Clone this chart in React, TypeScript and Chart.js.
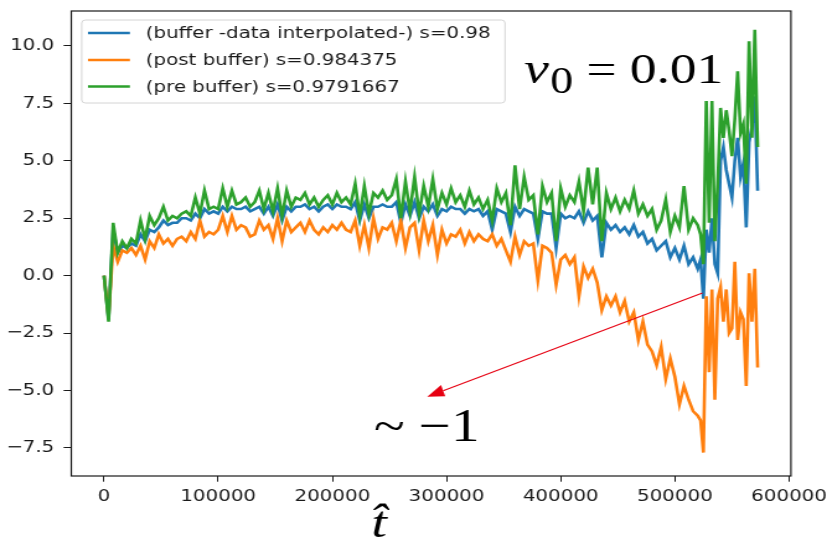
import React, { useEffect, useRef } from "react";
import { Chart, registerables } from "chart.js";

Chart.register(...registerables);

// time stamps (in thousands of steps)
const T_K = [
  0, 4, 8, 12, 16, 20, 24, 28, 32, 36,
  40, 44, 48, 52, 56, 60, 64, 68, 72, 76,
  80, 84, 88, 92, 96, 100, 104, 108, 112, 116,
  120, 124, 128, 132, 136, 140, 144, 148, 152, 156,
  160, 164, 168, 172, 176, 180, 184, 188, 192, 196,
  200, 204, 208, 212, 216, 220, 224, 228, 232, 236,
  240, 244, 248, 252, 256, 260, 264, 268, 272, 276,
  280, 284, 288, 292, 296, 300, 304, 308, 312, 316,
  320, 324, 328, 332, 336, 340, 344, 348, 352, 356,
  360, 364, 368, 372, 376, 380, 384, 388, 392, 396,
  400, 404, 408, 412, 416, 420, 424, 428, 432, 436,
  440, 444, 448, 452, 456, 460, 464, 468, 472, 476,
  480, 484, 488, 492, 496, 500, 504, 508, 512, 516,
  520,
  522.5, 525, 527.5, 530, 532.5, 535, 537.5, 540, 542.5, 545,
  547.5, 550, 552.5, 555, 557.5, 560, 562.5, 565, 567.5, 570,
  572.5,
];

const BUFFER = [
  0, -1.9, 2.0, 1.0, 1.3, 1.2, 1.4, 1.3, 1.8, 1.5,
  2.0, 1.9, 2.1, 2.4, 2.2, 2.3, 2.3, 2.5, 2.5, 2.4,
  2.7, 2.5, 2.9, 2.7, 2.8, 2.7, 3.0, 2.8, 3.0, 2.9,
  2.9, 3.0, 2.8, 2.9, 3.0, 2.7, 3.0, 2.6, 3.1, 2.4,
  3.0, 2.8, 3.0, 3.0, 3.1, 2.9, 3.0, 2.8, 3.0, 3.1,
  2.9, 3.1, 3.0, 3.0, 2.9, 3.2, 2.4, 3.1, 2.5, 3.0,
  3.0, 3.1, 3.0, 3.0, 3.2, 2.3, 3.1, 2.6, 3.2, 2.5,
  3.0, 2.8, 3.1, 2.6, 2.9, 2.8, 3.0, 2.9, 2.9, 2.7,
  2.9, 2.8, 2.9, 2.6, 2.8, 2.0, 2.9, 2.8, 2.7, 1.9,
  3.0, 2.6, 2.9, 2.8, 2.7, 1.6, 2.8, 2.7, 2.7, 1.2,
  2.7, 2.5, 2.6, 2.5, 2.8, 2.3, 2.8, 2.4, 2.6, 0.8,
  2.3, 2.0, 2.2, 1.9, 2.1, 1.8, 2.2, 1.7, 1.9, 1.4,
  1.6, 1.1, 1.3, 1.5, 0.8, 1.2, 0.7, 1.3, 0.5, 0.8,
  0.3,
  0.7, -1.0, 2.0, 1.0, 2.5, 0.5, 0.1, 5.0, 5.6, 4.6,
  4.0, 3.4, 5.0, 6.0, 4.3, 4.9, 2.1, 5.8, 6.5, 7.8,
  3.7,
];

const POST = [
  0, -1.8, 1.3, 0.6, 1.1, 1.0, 1.2, 0.9, 1.3, 0.7,
  1.5, 1.2, 1.8, 1.4, 1.6, 1.3, 1.6, 1.7, 1.5, 1.9,
  1.6, 2.4, 1.7, 1.9, 1.8, 2.0, 2.6, 1.9, 2.6, 2.0,
  2.2, 2.1, 1.7, 1.8, 2.4, 2.0, 2.2, 1.6, 2.5, 1.5,
  2.4, 1.9, 2.1, 2.3, 1.9, 2.4, 2.0, 1.8, 2.1, 1.9,
  2.2, 2.0, 2.3, 2.0, 1.9, 2.4, 1.3, 2.2, 1.2, 2.5,
  1.6, 2.1, 2.0, 2.3, 1.5, 2.4, 1.2, 2.1, 2.3, 1.1,
  2.4, 1.5, 2.2, 0.9, 2.0, 1.4, 1.8, 1.7, 2.0, 1.4,
  1.9, 1.5, 1.8, 1.6, 1.5, 1.8, 1.3, 1.6, 1.1, 0.6,
  1.7, 0.9, 1.5, 1.3, 1.4, -0.2, 1.3, 1.2, 1.0, -0.4,
  0.7, 0.9, 0.5, 0.8, -0.9, 0.4, -0.1, 0.3, -0.3, -1.5,
  -0.9, -1.3, -0.9, -1.6, -1.1, -2.0, -1.6, -2.8, -2.0, -3.0,
  -3.3, -3.9, -3.1, -4.5, -3.6, -4.4, -5.6, -4.8, -5.4, -5.9,
  -6.1,
  -6.3, -7.7, -0.9, -4.2, -0.6, -5.4, -1.0, -0.5, -2.0, -0.6,
  -2.5, -2.3, 0.6, -2.8, -1.6, -1.9, -4.8, 0.1, -2.0, 0.3,
  -4.0,
];

const PRE = [
  0, -2.0, 2.3, 1.0, 1.5, 1.2, 1.6, 1.4, 2.4, 1.6,
  2.6, 2.2, 2.5, 3.0, 2.4, 2.6, 2.5, 2.7, 2.8, 2.6,
  3.4, 2.7, 3.7, 2.9, 3.0, 2.9, 3.8, 3.0, 3.7, 3.1,
  3.2, 3.4, 3.0, 3.2, 3.7, 2.9, 3.6, 2.8, 3.8, 2.6,
  3.7, 3.0, 3.4, 3.3, 3.6, 3.1, 3.4, 3.0, 3.3, 3.5,
  3.1, 3.6, 3.2, 3.4, 3.1, 4.0, 2.6, 3.9, 2.7, 3.6,
  3.4, 3.7, 3.3, 3.5, 4.2, 2.5, 4.1, 2.8, 4.3, 2.7,
  3.9, 3.0, 4.2, 2.9, 3.6, 3.1, 3.8, 3.2, 3.5, 3.0,
  3.7, 3.1, 3.4, 2.9, 3.3, 2.4, 3.8, 3.2, 3.6, 2.2,
  4.8, 2.9, 4.3, 3.3, 3.5, 1.8, 3.9, 3.2, 3.6, 1.5,
  3.8, 3.0, 3.5, 3.2, 4.1, 2.8, 4.7, 3.1, 4.7, 1.5,
  3.6, 2.9, 3.4, 2.8, 3.3, 2.9, 3.7, 2.7, 3.1, 2.6,
  2.9, 2.0, 2.4, 3.3, 1.9, 2.6, 2.1, 3.9, 2.0, 2.5,
  2.2,
  1.8, 0.5, 7.6, 2.3, 7.6, 1.5, 4.0, 7.3, 6.0, 7.2,
  6.3, 5.2, 6.8, 8.9, 6.2, 6.6, 4.0, 10.2, 6.0, 10.7,
  5.6,
];

const SERIES_LABELS = [
  "(buffer -data interpolated-) s=0.98",
  "(post buffer) s=0.984375",
  "(pre buffer) s=0.9791667",
];
const SERIES_VALUES = [BUFFER, POST, PRE];
const SERIES_COLORS = ["#1f77b4", "#ff7f0e", "#2ca02c"];

const X_TICKS = [0, 100000, 200000, 300000, 400000, 500000, 600000];
const Y_TICKS = [-7.5, -5, -2.5, 0, 2.5, 5, 7.5, 10];
const X_RANGE = [-28650, 601650];
const Y_RANGE = [-8.72, 11.52];

// annotations, in data coordinates
const NU_TEXT_AT = [368100, 8.38];
const APPROX_TEXT = "~ \u22121";
const APPROX_AT = [236200, -7.19];
const ARROW_FROM = [524100, -0.75];
const ARROW_TO = [283100, -5.27];
const X_TITLE = "t\u0302";
const X_TITLE_AT = 241000;

// figure geometry
const W = 827;
const H = 540;
const S = 1.24; // horizontal stretch of the figure
const IW = Math.round(W / S);
const PLOT_LEFT = 71.3 / S;
const PLOT_RIGHT = 791 / S;
const PLOT_TOP = 11;
const PLOT_BOTTOM = 476;
const TICK_FONT = { family: "DejaVu Sans", size: 16 };
const INK = "#1a1a1a";
const ARROW_COLOR = "#e60012";

const decorPlugin = {
  id: "decor",
  afterDraw(chart: any) {
    const { ctx, chartArea: a, scales } = chart;
    const xs = scales.x;
    const ys = scales.y;
    const px = (v: number) => xs.getPixelForValue(v);
    const py = (v: number) => ys.getPixelForValue(v);
    ctx.save();

    // arrow
    const tx = px(ARROW_FROM[0]) * S, ty = py(ARROW_FROM[1]);
    const hx = px(ARROW_TO[0]) * S, hy = py(ARROW_TO[1]);
    const dx = hx - tx, dy = hy - ty;
    const len = Math.hypot(dx, dy);
    const ux = dx / len, uy = dy / len;
    const HL = 17, HW = 6;
    const bx = hx - ux * HL, by = hy - uy * HL;
    ctx.strokeStyle = ARROW_COLOR;
    ctx.fillStyle = ARROW_COLOR;
    ctx.lineWidth = 1.1;
    ctx.beginPath();
    ctx.moveTo(tx / S, ty);
    ctx.lineTo(bx / S, by);
    ctx.stroke();
    ctx.beginPath();
    ctx.moveTo(hx / S, hy);
    ctx.lineTo((bx - uy * HW) / S, by + ux * HW);
    ctx.lineTo((bx + uy * HW) / S, by - ux * HW);
    ctx.closePath();
    ctx.fill();

    // text annotations
    ctx.fillStyle = "#000";
    ctx.textAlign = "left";
    ctx.textBaseline = "alphabetic";
    let x0 = px(NU_TEXT_AT[0]);
    const b0 = py(NU_TEXT_AT[1]);
    ctx.font = 'italic 45px "Liberation Serif"';
    ctx.fillText("\u03bd", x0, b0);
    x0 += ctx.measureText("\u03bd").width + 1;
    ctx.font = '37px "Liberation Serif"';
    ctx.fillText("0", x0, b0 + 10);
    x0 += ctx.measureText("0").width;
    ctx.font = '43px "Liberation Serif"';
    ctx.fillText(" = 0.01", x0, b0);

    ctx.font = '46px "Liberation Serif"';
    ctx.fillText(APPROX_TEXT, px(APPROX_AT[0]), py(APPROX_AT[1]));

    // x title
    ctx.font = 'italic 45px "Liberation Serif"';
    ctx.textAlign = "center";
    ctx.fillText(X_TITLE, px(X_TITLE_AT), H - 3);

    // legend
    const lx = a.left + 8.4, ly = a.top + 9;
    const lw = 341.4, lh = 83;
    ctx.beginPath();
    ctx.roundRect(lx, ly, lw, lh, 3);
    ctx.fillStyle = "rgba(255,255,255,0.8)";
    ctx.fill();
    ctx.strokeStyle = "#d4d4d4";
    ctx.lineWidth = 1;
    ctx.stroke();
    const rows = [13, 40, 66.5];
    ctx.font = `${TICK_FONT.size}px "${TICK_FONT.family}"`;
    ctx.textAlign = "left";
    ctx.textBaseline = "middle";
    SERIES_LABELS.forEach((lab, k) => {
      const yy = ly + rows[k];
      ctx.strokeStyle = SERIES_COLORS[k];
      ctx.lineWidth = 2.6;
      ctx.beginPath();
      ctx.moveTo(lx + 5.1, yy);
      ctx.lineTo(lx + 38.9, yy);
      ctx.stroke();
      ctx.fillStyle = INK;
      ctx.fillText(lab, lx + 51.6, yy + 1);
    });

    // frame
    ctx.strokeStyle = INK;
    ctx.lineWidth = 1.2;
    ctx.strokeRect(a.left, a.top, a.right - a.left, a.bottom - a.top);
    ctx.restore();
  },
};

export default function App() {
  const ref = useRef<HTMLCanvasElement | null>(null);

  useEffect(() => {
    const canvas = ref.current;
    if (!canvas) return;
    const datasets = SERIES_VALUES.map((vals, k) => ({
      label: SERIES_LABELS[k],
      data: T_K.map((t, i) => ({ x: t * 1000, y: vals[i] })),
      borderColor: SERIES_COLORS[k],
      backgroundColor: SERIES_COLORS[k],
      borderWidth: 2.6,
      pointRadius: 0,
      fill: false,
      tension: 0,
      order: 3 - k,
    }));
    const chart = new Chart(canvas, {
      type: "line",
      data: { datasets },
      plugins: [decorPlugin],
      options: {
        responsive: false,
        animation: false,
        devicePixelRatio: 1,
        events: [],
        layout: { padding: { left: 0, right: IW - PLOT_RIGHT, top: PLOT_TOP, bottom: 0 } },
        plugins: { legend: { display: false }, tooltip: { enabled: false } },
        scales: {
          x: {
            type: "linear",
            min: X_RANGE[0],
            max: X_RANGE[1],
            afterBuildTicks: (s: any) => {
              s.ticks = X_TICKS.map((v) => ({ value: v }));
            },
            afterFit: (s: any) => {
              s.height = H - PLOT_BOTTOM;
              s.paddingLeft = 0;
              s.paddingRight = 0;
            },
            border: { display: false },
            grid: { display: true, drawOnChartArea: false, drawTicks: true, tickLength: 5.7, color: INK, lineWidth: 1 },
            ticks: {
              font: TICK_FONT,
              color: INK,
              padding: 5.8,
              maxRotation: 0,
              autoSkip: false,
              callback: (v: any) => String(v),
            },
          },
          y: {
            type: "linear",
            min: Y_RANGE[0],
            max: Y_RANGE[1],
            afterBuildTicks: (s: any) => {
              s.ticks = Y_TICKS.map((v) => ({ value: v }));
            },
            afterFit: (s: any) => {
              s.width = PLOT_LEFT;
              s.paddingTop = 0;
              s.paddingBottom = 0;
            },
            border: { display: false },
            grid: { display: true, drawOnChartArea: false, drawTicks: true, tickLength: 6.2, color: INK, lineWidth: 1 },
            ticks: {
              font: TICK_FONT,
              color: INK,
              padding: 7.5,
              autoSkip: false,
              callback: (v: any) => Number(v).toFixed(1).replace("-", "\u2212"),
            },
          },
        },
      },
    } as any);
    return () => chart.destroy();
  }, []);

  return (
    <div style={{ position: "absolute", left: 0, top: 0, width: W, height: H, background: "#fff" }}>
      <canvas ref={ref} width={IW} height={H} style={{ width: W + "px", height: H + "px", display: "block" }} />
    </div>
  );
}
